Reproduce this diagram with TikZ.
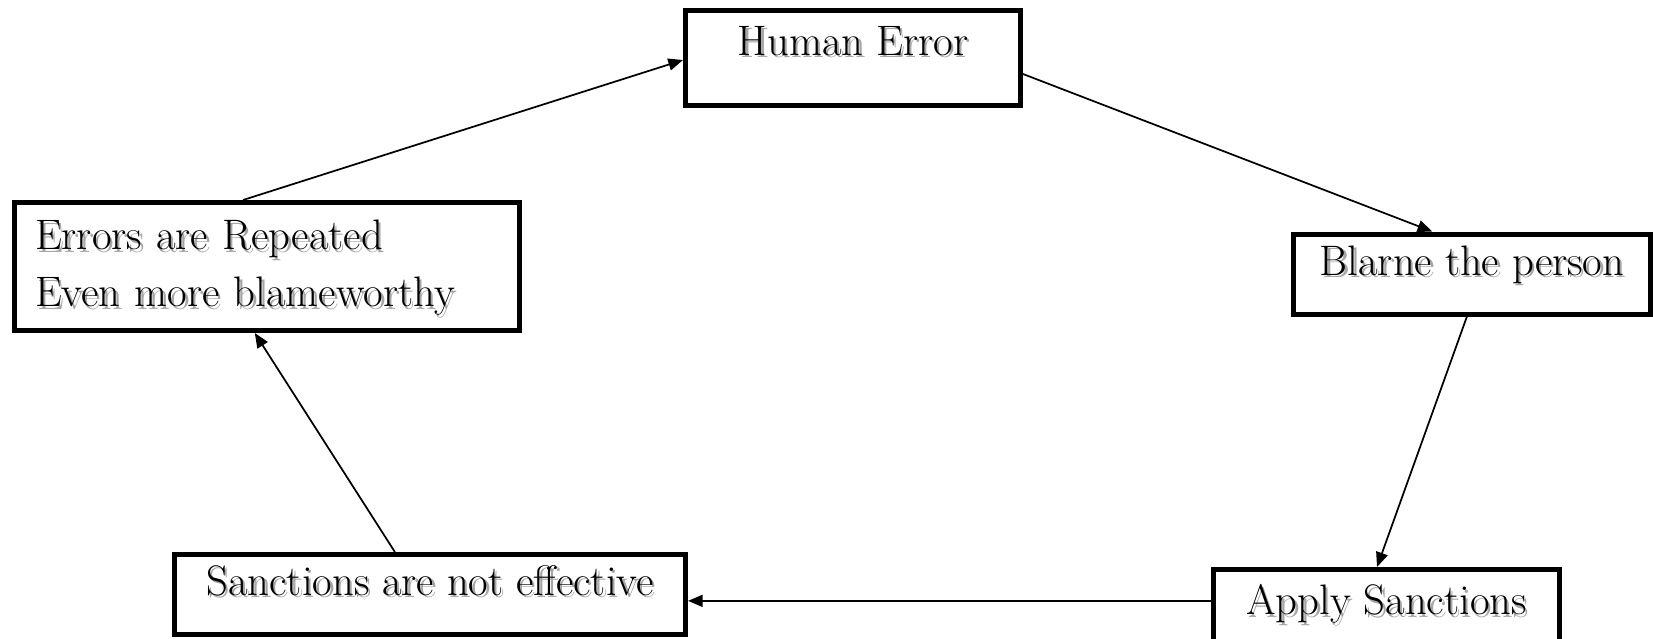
\documentclass[tikz,border=0pt]{standalone}
\usetikzlibrary{arrows.meta,calc}

% text with a soft grey drop shadow
\newcommand{\shadowed}[1]{\leavevmode\rlap{\hspace{1.8pt}\raisebox{-1.8pt}{\textcolor{black!35}{#1}}}#1}
% large type, wide line spacing
\newcommand{\boxfont}{\fontsize{32}{42.75}\selectfont}

\tikzset{
  cyclebox/.style={draw, line width=3.75pt, inner sep=0pt, font=\boxfont},
  cyclearrow/.style={line width=1.3pt, -{Triangle[length=11pt,width=9pt]}}
}

\begin{document}
\begin{tikzpicture}[x=0.75pt,y=0.75pt,yscale=-1,xscale=1]
            \useasboundingbox (0,0) rectangle (1653,639);
            %Shape: Rectangle [id:human]
            \node[cyclebox, minimum width=251.25pt, text height=33.4pt, text depth=37.9pt] (human) at (853,58) {\shadowed{Human Error}};
            %Shape: Rectangle [id:blame]
            \node[cyclebox, minimum width=267.75pt, text height=30.75pt, text depth=29.25pt] (blame) at (1472,274) {\shadowed{Blarne the person}};
            %Shape: Rectangle [id:apply]
            \node[cyclebox, minimum width=259.5pt, text height=34.1pt, text depth=19.9pt] (apply) at (1386.5,605.5) {\shadowed{Apply Sanctions}};
            %Shape: Rectangle [id:useless]
            \node[cyclebox, minimum width=383.25pt, text height=30.4pt, text depth=29.6pt] (useless) at (430,594.5) {\shadowed{Sanctions are not effective}};
            %Shape: Rectangle [id:repeated]
            \node[cyclebox, text width=348pt, inner xsep=15.4pt, align=left, text height=35.6pt, text depth=60.4pt] (repeated) at (267,266.5) {\shadowed{Errors are Repeated}\\\shadowed{Even more blameworthy}};

            %Straight Lines [id:human-blame]
            \draw[cyclearrow] ($(human.north east)!0.66!(human.south east)$) -- ($(blame.north west)!0.39!(blame.north east)$);
            %Straight Lines [id:blame-apply]
            \draw[cyclearrow] ($(blame.south west)!0.486!(blame.south east)$) -- ($(apply.north west)!0.473!(apply.north east)$);
            %Straight Lines [id:apply-useless]
            \draw[cyclearrow] ($(apply.north west)!0.44!(apply.south west)$) coordinate (s) -- (useless.east |- s);
            %Straight Lines [id:useless-repeated]
            \draw[cyclearrow] ($(useless.north west)!0.432!(useless.north east)$) -- ($(repeated.south west)!0.476!(repeated.south east)$);
            %Straight Lines [id:repeated-human]
            \draw[cyclearrow] ($(repeated.north west)!0.453!(repeated.north east)$) -- ($(human.north west)!0.52!(human.south west)$);
\end{tikzpicture}
\end{document}
